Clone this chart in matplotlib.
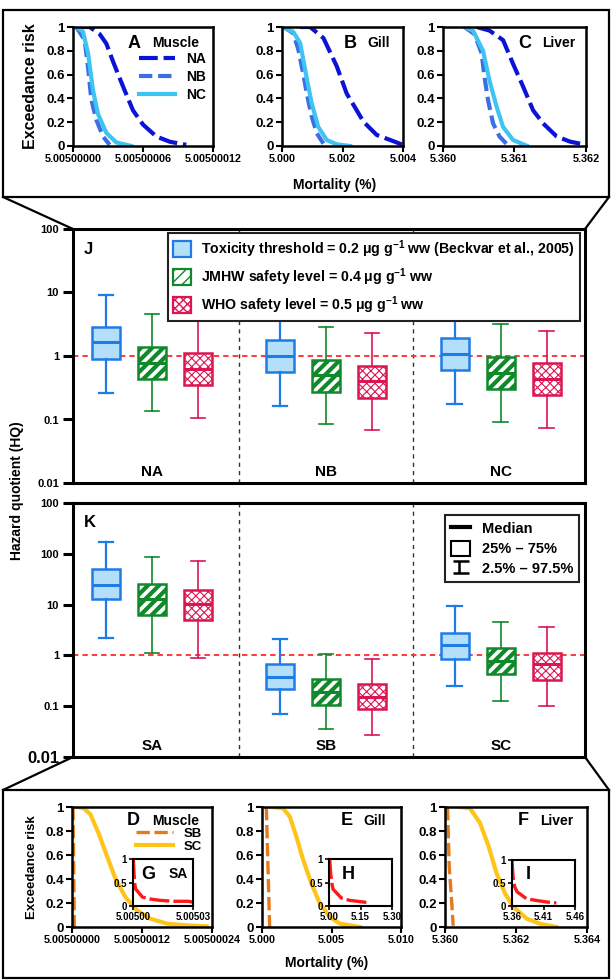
import matplotlib as mpl
import matplotlib.pyplot as plt
from matplotlib.lines import Line2D
from matplotlib.patches import Patch, Rectangle
from matplotlib.path import Path

plt.rcParams['font.family'] = ['Liberation Sans', 'DejaVu Sans']
plt.rcParams['font.weight'] = 'bold'
plt.rcParams['axes.labelweight'] = 'bold'
plt.rcParams['mathtext.fontset'] = 'custom'
plt.rcParams['mathtext.rm'] = 'Liberation Sans:bold'
plt.rcParams['mathtext.bf'] = 'Liberation Sans:bold'
plt.rcParams['mathtext.it'] = 'Liberation Sans:bold'
plt.rcParams['axes.linewidth'] = 1.6

# ---------------- exceedance curves, north sites (A-C) ----------------
muscle_na_x = [5.0050000029, 5.0050000143, 5.0050000229, 5.0050000286, 5.0050000343, 5.0050000429,
               5.0050000514, 5.0050000600, 5.0050000714, 5.0050000829, 5.0050000971]
muscle_na_y = [1.00, 1.00, 0.94, 0.86, 0.71, 0.50, 0.30, 0.18, 0.08, 0.036, 0.01]
muscle_nb_x = [5.0050000029, 5.0050000100, 5.0050000129, 5.0050000157, 5.0050000200, 5.0050000257, 5.0050000314]
muscle_nb_y = [1.00, 0.89, 0.66, 0.39, 0.22, 0.08, 0.01]
muscle_nc_x = [5.0050000029, 5.0050000086, 5.0050000129, 5.0050000171, 5.0050000214, 5.0050000286,
               5.0050000371, 5.0050000500]
muscle_nc_y = [1.00, 0.96, 0.78, 0.47, 0.27, 0.11, 0.03, 0.00]

gill_na_x = [5.00060, 5.00093, 5.00137, 5.00181, 5.00214, 5.00247, 5.00269, 5.00313, 5.00379, 5.00399]
gill_na_y = [1.00, 1.00, 0.907, 0.67, 0.44, 0.30, 0.205, 0.093, 0.03, 0.01]
gill_nb_x = [5.00004, 5.00037, 5.00054, 5.00070, 5.00082, 5.00098, 5.00115, 5.00137]
gill_nb_y = [1.00, 0.95, 0.81, 0.61, 0.44, 0.25, 0.107, 0.02]
gill_nc_x = [5.00000, 5.00037, 5.00060, 5.00081, 5.00098, 5.00120, 5.00148, 5.00181, 5.00225]
gill_nc_y = [1.00, 0.96, 0.865, 0.58, 0.36, 0.16, 0.05, 0.014, 0.00]

liver_na_x = [5.36047, 5.36065, 5.36084, 5.36098, 5.36112, 5.36126, 5.36140, 5.36159, 5.36178, 5.36194]
liver_na_y = [1.00, 0.97, 0.89, 0.69, 0.50, 0.30, 0.19, 0.08, 0.036, 0.017]
liver_nb_x = [5.36030, 5.36044, 5.36054, 5.36058, 5.36063, 5.36070, 5.36079, 5.36089]
liver_nb_y = [1.00, 0.94, 0.78, 0.58, 0.385, 0.19, 0.08, 0.017]
liver_nc_x = [5.36030, 5.36042, 5.36056, 5.36065, 5.36075, 5.36084, 5.36098, 5.36117]
liver_nc_y = [1.00, 0.97, 0.80, 0.55, 0.33, 0.16, 0.05, 0.003]

# ---------------- exceedance curves, south sites (D-I) ----------------
muscle_sb_x = [5.0050000017, 5.0050000029, 5.0050000040]
muscle_sb_y = [1.0, 0.5, 0.0]
muscle_sc_x = [5.0050000086, 5.0050000200, 5.0050000314, 5.0050000457, 5.0050000600, 5.0050000743,
               5.0050000914, 5.0050001110, 5.0050001340, 5.0050001630, 5.0050001970, 5.0050002310]
muscle_sc_y = [1.00, 0.99, 0.94, 0.78, 0.59, 0.405, 0.25, 0.14, 0.07, 0.028, 0.014, 0.006]
muscle_sa_x = [5.00500017, 5.0050005, 5.00500084, 5.00500135, 5.0050047, 5.0050084, 5.0050135,
               5.0050202, 5.0050278, 5.00503]
muscle_sa_y = [1.0, 0.69, 0.48, 0.36, 0.19, 0.15, 0.12, 0.10, 0.10, 0.08]

gill_sb_x = [5.00031, 5.00043, 5.00055]
gill_sb_y = [1.0, 0.5, 0.0]
gill_sc_x = [5.00067, 5.00151, 5.00200, 5.00248, 5.00296, 5.00356, 5.00416, 5.00488, 5.00560, 5.00632, 5.00704]
gill_sc_y = [1.00, 0.99, 0.92, 0.75, 0.56, 0.36, 0.196, 0.084, 0.028, 0.014, 0.00]
gill_sa_x = [5.0032, 5.0079, 5.0143, 5.0190, 5.0587, 5.0980, 5.1460, 5.1860]
gill_sa_y = [1.0, 0.69, 0.47, 0.36, 0.17, 0.12, 0.094, 0.072]

liver_sb_x = [5.36007, 5.36012, 5.36019, 5.36023]
liver_sb_y = [1.0, 0.5, 0.2, 0.01]
liver_sc_x = [5.36042, 5.36070, 5.36098, 5.36122, 5.36145, 5.36169, 5.36192, 5.36230, 5.36267, 5.36314]
liver_sc_y = [1.00, 0.99, 0.87, 0.68, 0.45, 0.28, 0.17, 0.07, 0.028, 0.00]
liver_sa_x = [5.3600, 5.3616, 5.3642, 5.3679, 5.3828, 5.3986, 5.4145, 5.4304]
liver_sa_y = [1.0, 0.64, 0.42, 0.31, 0.16, 0.12, 0.088, 0.066]

# ---------------- hazard quotient boxes: (2.5%, 25%, median, 75%, 97.5%) ----------------
north_sites = ['NA', 'NB', 'NC']
south_sites = ['SA', 'SB', 'SC']
j_tox = [(0.265, 0.90, 1.64, 2.89, 9.1), (0.166, 0.56, 1.0, 1.76, 5.67), (0.176, 0.596, 1.07, 1.94, 6.1)]
j_jmhw = [(0.134, 0.435, 0.79, 1.40, 4.57), (0.0855, 0.275, 0.50, 0.875, 2.85), (0.091, 0.30, 0.534, 0.953, 3.18)]
j_who = [(0.107, 0.346, 0.62, 1.11, 3.59), (0.0689, 0.222, 0.405, 0.705, 2.27), (0.073, 0.241, 0.435, 0.776, 2.5)]
k_tox = [(2.25, 12.7, 24.7, 49.3, 174), (0.0687, 0.219, 0.382, 0.687, 2.12), (0.25, 0.86, 1.57, 2.78, 9.4)]
k_jmhw = [(1.09, 6.37, 13.1, 25.0, 87), (0.0349, 0.106, 0.194, 0.349, 1.08), (0.125, 0.43, 0.786, 1.43, 4.57)]
k_who = [(0.90, 5.08, 10.5, 19.7, 70.7), (0.0274, 0.090, 0.155, 0.278, 0.86), (0.102, 0.328, 0.667, 1.11, 3.65)]

legend_labels = ['Toxicity threshold = 0.2 μg g$^{-1}$ ww (Beckvar et al., 2005)',
                 'JMHW safety level = 0.4 μg g$^{-1}$ ww',
                 'WHO safety level = 0.5 μg g$^{-1}$ ww']

# colours
C_NA, C_NB, C_NC = '#0b14d6', '#3b6fe8', '#3ec3f3'
C_SB, C_SC, C_SA = '#e57a1c', '#ffc419', '#ff1a1a'
BLUE, BLUE_FILL, GREEN, RED = '#1f7be6', '#b3e0f8', '#10892b', '#dc1550'

W, H = 613, 980
fig = plt.figure(figsize=(W / 100, H / 100), dpi=100)


def px_axes(x0, y0, x1, y1):
    return fig.add_axes([x0 / W, 1 - y1 / H, (x1 - x0) / W, (y1 - y0) / H])


def curve_axes(ax, xlim, ticks, ticklabels, xsize=7.8, ysize=9.5):
    ax.set_xlim(xlim)
    ax.set_ylim(0, 1)
    ax.set_xticks(ticks, ticklabels)
    ax.set_yticks([0, 0.2, 0.4, 0.6, 0.8, 1.0], ['0', '0.2', '0.4', '0.6', '0.8', '1'])
    ax.tick_params(axis='x', direction='out', length=4, width=1.5, labelsize=xsize, pad=2)
    ax.tick_params(axis='y', direction='out', length=4, width=1.5, labelsize=ysize, pad=2)
    for s in ax.spines.values():
        s.set_linewidth(1.8)


# ---------------- top row A-C ----------------
top_specs = [
    ((73, 27, 213, 146), (muscle_na_x, muscle_na_y, muscle_nb_x, muscle_nb_y, muscle_nc_x, muscle_nc_y),
     (5.005, 5.00500012), [5.005, 5.00500006, 5.00500012], ['5.00500000', '5.00500006', '5.00500012'],
     'A', 'Muscle', 0.435, 0.73),
    ((282, 27, 403, 146), (gill_na_x, gill_na_y, gill_nb_x, gill_nb_y, gill_nc_x, gill_nc_y),
     (5.000, 5.004), [5.000, 5.002, 5.004], ['5.000', '5.002', '5.004'], 'B', 'Gill', 0.56, 0.80),
    ((443, 27, 586, 146), (liver_na_x, liver_na_y, liver_nb_x, liver_nb_y, liver_nc_x, liver_nc_y),
     (5.360, 5.362), [5.360, 5.361, 5.362], ['5.360', '5.361', '5.362'], 'C', 'Liver', 0.57, 0.81),
]
for i, (box, d, xlim, ticks, tlabels, letter, tissue, lx, tx) in enumerate(top_specs):
    ax = px_axes(*box)
    ax.plot(d[0], d[1], color=C_NA, lw=3.0, ls=(0, (4.5, 1.4)), label='NA')
    ax.plot(d[2], d[3], color=C_NB, lw=3.0, ls=(0, (3.2, 1.4)), label='NB')
    ax.plot(d[4], d[5], color=C_NC, lw=3.0, label='NC')
    curve_axes(ax, xlim, ticks, tlabels)
    ax.text(lx, 0.865, letter, transform=ax.transAxes, fontsize=13, ha='center', va='center')
    ax.text(tx, 0.865, tissue, transform=ax.transAxes, fontsize=10, ha='center', va='center')
    if i == 0:
        ax.legend(loc='upper right', bbox_to_anchor=(0.95, 0.79), frameon=False, fontsize=10,
                  handlelength=2.6, handletextpad=0.8, labelspacing=0.3, borderpad=0, borderaxespad=0)
        ax.set_ylabel('Exceedance risk', fontsize=11.5, labelpad=6)

fig.text(335 / W, 1 - 185 / H, 'Mortality (%)', fontsize=10, ha='center', va='center')

# ---------------- box panels J and K ----------------
centers = [1.72, 5.5, 9.3]
offsets = [-1.0, 0.0, 1.0]
styles = [
    dict(face=BLUE_FILL, edge=BLUE, hatch=None, wlw=1.6, hlw=1.0),
    dict(face='white', edge=GREEN, hatch='///', wlw=1.2, hlw=3.0),
    dict(face='white', edge=RED, hatch='xxxx', wlw=1.2, hlw=0.8),
]


def box_panel(ax, series, sites, top):
    for k, (rows, st) in enumerate(zip(series, styles)):
        stats = [dict(whislo=r[0], q1=r[1], med=r[2], q3=r[3], whishi=r[4], fliers=[]) for r in rows]
        pos = [c + offsets[k] for c in centers]
        with mpl.rc_context({'hatch.linewidth': st['hlw']}):
            art = ax.bxp(stats, positions=pos, widths=0.62, capwidths=0.32, patch_artist=True,
                         showfliers=False,
                         boxprops=dict(facecolor=st['face'], edgecolor=st['edge'], linewidth=1.8,
                                       hatch=st['hatch']),
                         medianprops=dict(color=st['edge'], linewidth=2.2),
                         whiskerprops=dict(color=st['edge'], linewidth=st['wlw']),
                         capprops=dict(color=st['edge'], linewidth=st['wlw']))
        for b in art['boxes']:
            if hasattr(b, 'set_hatch_linewidth'):
                b.set_hatch_linewidth(st['hlw'])
    ax.set_yscale('log')
    ax.set_xlim(0, 11.13)
    ax.set_ylim(0.01, top)
    ax.axhline(1, color='#ff2b2b', lw=1.3, ls=(0, (3, 2.2)), zorder=0.5)
    for a, b in zip(centers[:-1], centers[1:]):
        ax.axvline((a + b) / 2, color='#333333', lw=1.0, ls=(0, (3, 3)), zorder=0.4)
    for c, s in zip(centers, sites):
        ax.text(c, 0.045, s, transform=ax.get_xaxis_transform(), fontsize=11, ha='center', va='center')
    ax.set_xticks([])
    ax.minorticks_off()
    ax.tick_params(axis='y', which='both', direction='out', length=7, width=2.2, labelsize=8, pad=3)
    ax.tick_params(axis='y', which='minor', length=0)
    for s in ax.spines.values():
        s.set_linewidth(2.2)


axJ = px_axes(73, 229, 585, 483)
box_panel(axJ, [j_tox, j_jmhw, j_who], north_sites, 100)
axJ.set_yticks([0.01, 0.1, 1, 10, 100], ['0.01', '0.1', '1', '10', '100'])
axJ.minorticks_off()
axJ.text(0.03, 0.92, 'J', transform=axJ.transAxes, fontsize=12, ha='center', va='center')
j_handles = []
for st in styles:
    with mpl.rc_context({'hatch.linewidth': st['hlw']}):
        hp = Patch(facecolor=st['face'], edgecolor=st['edge'], hatch=st['hatch'], linewidth=1.6)
    j_handles.append(hp)
legJ = axJ.legend(j_handles, legend_labels, loc='upper left', bbox_to_anchor=(0.186, 0.983), fontsize=10.2,
                  frameon=True, fancybox=False, edgecolor='#222222', framealpha=1, handlelength=1.25,
                  handleheight=1.3, handletextpad=0.7, labelspacing=0.45, borderpad=0.35, borderaxespad=0)
legJ.get_frame().set_linewidth(1.5)

axK = px_axes(73, 503, 585, 757)
box_panel(axK, [k_tox, k_jmhw, k_who], south_sites, 1000)
axK.set_yticks([0.01, 0.1, 1, 10, 100, 1000], ['0.01', '0.1', '1', '10', '100', '100'])
axK.minorticks_off()
axK.get_yticklabels()[0].set_fontsize(12)
axK.text(0.032, 0.922, 'K', transform=axK.transAxes, fontsize=12, ha='center', va='center')
ibeam = Path([(-1, 0.75), (1, 0.75), (-0.2, 0.75), (-0.2, -0.75), (-1, -0.75), (1, -0.75)],
             [Path.MOVETO, Path.LINETO, Path.MOVETO, Path.LINETO, Path.MOVETO, Path.LINETO])
k_handles = [Line2D([], [], color='black', lw=3),
             Patch(facecolor='white', edgecolor='black', linewidth=1.5),
             Line2D([], [], ls='none', marker=ibeam, markersize=12, markeredgecolor='black', markeredgewidth=1.8)]
legK = axK.legend(k_handles, ['Median', '25% – 75%', '2.5% – 97.5%'], loc='upper right',
                  bbox_to_anchor=(0.988, 0.952), fontsize=10.5, frameon=True, fancybox=False,
                  edgecolor='#222222', framealpha=1, handlelength=1.3, handleheight=1.2,
                  handletextpad=0.8, labelspacing=0.3, borderpad=0.4, borderaxespad=0)
legK.get_frame().set_linewidth(1.5)

fig.text(17 / W, 1 - 491 / H, 'Hazard quotient (HQ)', fontsize=10, rotation=90, ha='center', va='center')

# ---------------- bottom row D-I ----------------
bottom_specs = [
    ((72, 807, 212, 927), (muscle_sb_x, muscle_sb_y, muscle_sc_x, muscle_sc_y),
     (5.005, 5.00500024), [5.005, 5.00500012, 5.00500024], ['5.00500000', '5.00500012', '5.00500024'],
     'D', 'Muscle', 0.44, 0.74,
     (133, 859, 193, 906), (muscle_sa_x, muscle_sa_y), (5.005, 5.00503), [5.005, 5.00503],
     ['5.00500', '5.00503'], 'G', 0.25),
    ((262, 807, 401, 927), (gill_sb_x, gill_sb_y, gill_sc_x, gill_sc_y),
     (5.000, 5.010), [5.000, 5.005, 5.010], ['5.000', '5.005', '5.010'], 'E', 'Gill', 0.61, 0.81,
     (329, 859, 392, 906), (gill_sa_x, gill_sa_y), (5.00, 5.30), [5.00, 5.15, 5.30],
     ['5.00', '5.15', '5.30'], 'H', 0.31),
    ((445, 807, 587, 927), (liver_sb_x, liver_sb_y, liver_sc_x, liver_sc_y),
     (5.360, 5.364), [5.360, 5.362, 5.364], ['5.360', '5.362', '5.364'], 'F', 'Liver', 0.55, 0.79,
     (512, 860, 575, 906), (liver_sa_x, liver_sa_y), (5.36, 5.46), [5.36, 5.41, 5.46],
     ['5.36', '5.41', '5.46'], 'I', 0.26),
]
for i, spec in enumerate(bottom_specs):
    (box, d, xlim, ticks, tlabels, letter, tissue, lx, tx,
     ibox, sa, ixlim, iticks, itlabels, iletter, ilx) = spec
    ax = px_axes(*box)
    ax.plot(d[0], d[1], color=C_SB, lw=2.4, ls=(0, (4, 1.4)), label='SB')
    ax.plot(d[2], d[3], color=C_SC, lw=3.0, label='SC')
    curve_axes(ax, xlim, ticks, tlabels)
    ax.text(lx, 0.885, letter, transform=ax.transAxes, fontsize=13, ha='center', va='center')
    ax.text(tx, 0.88, tissue, transform=ax.transAxes, fontsize=10, ha='center', va='center')
    if i == 0:
        ax.legend(loc='upper right', bbox_to_anchor=(0.93, 0.83), frameon=False, fontsize=9.5,
                  handlelength=2.8, handletextpad=0.8, labelspacing=0.05, borderpad=0, borderaxespad=0)
        ax.set_ylabel('Exceedance risk', fontsize=9.5, labelpad=5)
    ins = px_axes(*ibox)
    ins.plot(sa[0], sa[1], color=C_SA, lw=2.4, ls=(0, (6, 1.2)))
    ins.set_xlim(ixlim)
    ins.set_ylim(0, 1)
    ins.set_xticks(iticks, itlabels)
    ins.set_yticks([0, 0.5, 1], ['0', '0.5', '1'])
    ins.tick_params(direction='out', length=3, width=1.2, labelsize=7, pad=1.5)
    for s in ins.spines.values():
        s.set_linewidth(1.5)
    ins.text(ilx, 0.68, iletter, transform=ins.transAxes, fontsize=13, ha='center', va='center')
    if i == 0:
        ins.text(0.76, 0.68, 'SA', transform=ins.transAxes, fontsize=10, ha='center', va='center')

fig.text(327 / W, 1 - 963 / H, 'Mortality (%)', fontsize=10, ha='center', va='center')

# ---------------- frames and zoom connectors ----------------
for y0, y1 in [(10, 197), (790, 978)]:
    fig.add_artist(Rectangle((3 / W, 1 - y1 / H), 606 / W, (y1 - y0) / H, transform=fig.transFigure,
                             fill=False, lw=1.6, edgecolor='black'))
for (xa, ya), (xb, yb) in [((3, 197), (73, 229)), ((609, 197), (585, 229)),
                           ((73, 757), (3, 790)), ((585, 757), (609, 790))]:
    fig.add_artist(Line2D([xa / W, xb / W], [1 - ya / H, 1 - yb / H], transform=fig.transFigure,
                          color='black', lw=1.6))

fig.savefig('out.png', dpi=100)
